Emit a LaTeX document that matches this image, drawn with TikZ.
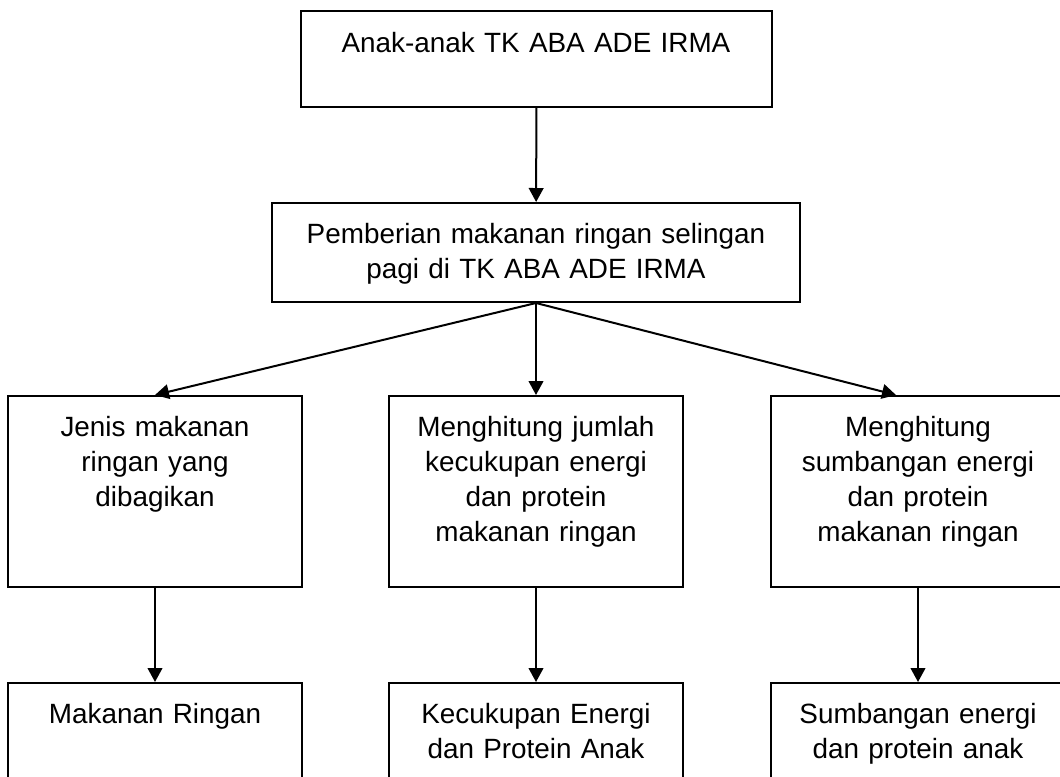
\documentclass[tikz,border=0pt]{standalone}
\usepackage{fontspec}
\setmainfont{Liberation Sans}
\usetikzlibrary{arrows.meta}

\begin{document}
\begin{tikzpicture}[x=0.75pt,y=-0.75pt,
    frame/.style={draw,line width=1.5pt,inner sep=0pt,minimum width=220.5pt,minimum height=143.25pt},
    txt/.style={anchor=base,inner sep=0pt,text width=210pt,align=center,font=\fontsize{20.9pt}{26.25pt}\selectfont},
    arr/.style={line width=1.5pt,-{Triangle[length=10.5pt,width=11pt]}}]
  \useasboundingbox (0,0) rectangle (1060,776);
  % boxes
  \node [frame,minimum width=353.25pt,minimum height=72pt] (anak) at (536.5,59) {};
  \node [frame,minimum width=396pt,minimum height=74.25pt] (beri) at (536,252.5) {};
  \node [frame] (jenis) at (155,491.5) {};
  \node [frame] (hitung) at (536,491.5) {};
  \node [frame] (sumb) at (918,491.5) {};
  \node [frame,minimum height=97.5pt] (ringan) at (155,748) {};
  \node [frame,minimum height=97.5pt] (cukup) at (536,748) {};
  \node [frame,minimum height=97.5pt] (energi) at (918,748) {};
  % texts
  \node [txt,text width=340pt] (anak-t) at (536,52) {Anak-anak TK ABA ADE IRMA};
  \node [txt,text width=390pt] (beri-t) at (536,243) {Pemberian makanan ringan selingan\\pagi di TK ABA ADE IRMA};
  \node [txt] (jenis-t) at (155,436) {Jenis makanan\\ringan yang\\dibagikan};
  \node [txt] (hitung-t) at (536,436) {Menghitung jumlah\\kecukupan energi\\dan protein\\makanan ringan};
  \node [txt] (sumb-t) at (918,436) {Menghitung\\sumbangan energi\\dan protein\\makanan ringan};
  \node [txt] (ringan-t) at (155,723) {Makanan Ringan};
  \node [txt] (cukup-t) at (536,723) {Kecukupan Energi\\dan Protein Anak};
  \node [txt] (energi-t) at (918,723) {Sumbangan energi\\dan protein anak};
  % arrows
  \draw [arr] (anak) -- (beri);
  \draw [arr] (beri.south) -- (jenis.north);
  \draw [arr] (beri.south) -- (hitung.north);
  \draw [arr] (beri.south) -- ([xshift=-16.5pt]sumb.north);
  \foreach \a/\b in {jenis/ringan,hitung/cukup,sumb/energi}
    \draw [arr] (\a) -- (\b);
\end{tikzpicture}
\end{document}
